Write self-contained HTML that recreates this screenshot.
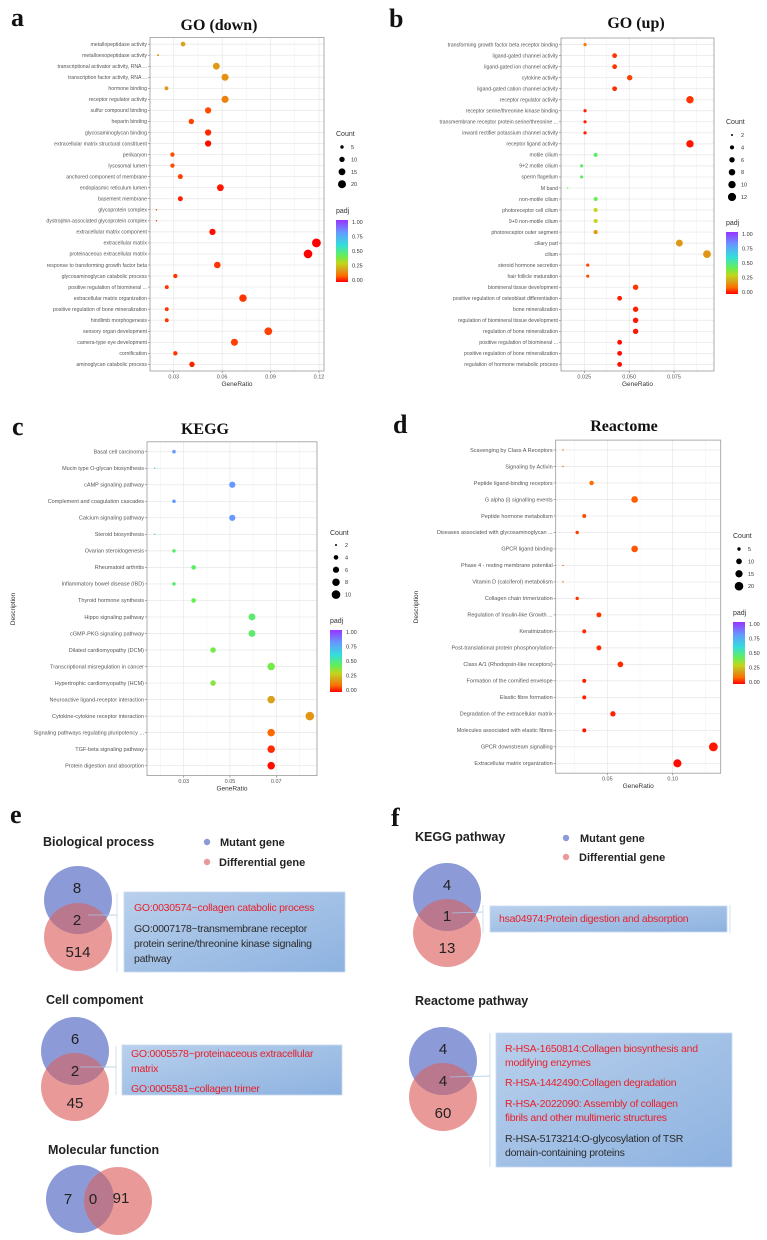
<!DOCTYPE html>
<html><head><meta charset="utf-8">
<style>
html,body{margin:0;padding:0;background:#fff;}
svg{display:block;font-family:"Liberation Sans",sans-serif;}
.lbl{font-size:5.3px;fill:#555;}
.tick{font-size:5.5px;fill:#555;}
.ax{font-size:6.5px;fill:#333;}
.lg{font-size:7px;fill:#333;}
.lgs{font-size:5.5px;fill:#333;}
.title{font-family:"Liberation Serif",serif;font-weight:bold;font-size:16px;fill:#111;}
.plet{font-family:"Liberation Serif",serif;font-weight:bold;font-size:26px;fill:#111;}
.vh{font-size:12.5px;font-weight:bold;fill:#222;}
.vn{font-size:15px;fill:#222;}
.bt{font-size:10.5px;letter-spacing:-0.25px;}
.red{fill:#e8202a;}
.blk{fill:#2a2a2a;}
</style></head>
<body>
<svg id="fig" width="767" height="1240" viewBox="0 0 767 1240">
<defs>
<linearGradient id="padjGrad" x1="0" y1="1" x2="0" y2="0">
<stop offset="0" stop-color="#ff0000"/><stop offset="0.1" stop-color="#ff6a00"/><stop offset="0.2" stop-color="#d9a21b"/><stop offset="0.3" stop-color="#c2d61a"/><stop offset="0.42" stop-color="#66ee55"/><stop offset="0.6" stop-color="#33dddd"/><stop offset="0.8" stop-color="#6699ff"/><stop offset="1" stop-color="#9933ff"/>
</linearGradient>
<linearGradient id="boxGrad" x1="0" y1="0" x2="1" y2="1">
<stop offset="0" stop-color="#b9d0ec"/><stop offset="1" stop-color="#8db2e0"/>
</linearGradient>
<clipPath id="cBP"><circle cx="78" cy="900" r="34"/></clipPath>
<clipPath id="cCC"><circle cx="75" cy="1051" r="34"/></clipPath>
<clipPath id="cMF"><circle cx="80" cy="1199" r="34"/></clipPath>
<clipPath id="cKP"><circle cx="447" cy="897" r="34"/></clipPath>
<clipPath id="cRP"><circle cx="443" cy="1061" r="34"/></clipPath>
</defs>

<text class="plet" x="11" y="26">a</text>
<text class="title" x="219" y="30" text-anchor="middle">GO (down)</text>
<text class="plet" x="389" y="27">b</text>
<text class="title" x="636" y="28" text-anchor="middle">GO (up)</text>
<text class="plet" x="12" y="435">c</text>
<text class="title" x="205" y="434" text-anchor="middle">KEGG</text>
<text class="plet" x="393" y="433">d</text>
<text class="title" x="624" y="431" text-anchor="middle">Reactome</text>

<g id="plots"></g>

<text class="plet" x="10" y="823">e</text>
<text class="vh" x="43" y="846">Biological process</text>
<circle cx="207" cy="842" r="3.2" fill="#8c9ad8"/>
<text class="vh" x="220" y="846" style="font-size:11px">Mutant gene</text>
<circle cx="207" cy="862" r="3.2" fill="#e99a98"/>
<text class="vh" x="219" y="866" style="font-size:11px">Differential gene</text>

<g>
<circle cx="78" cy="937" r="34" fill="#e99a98"/>
<circle cx="78" cy="900" r="34" fill="#8c9ad8"/>
<circle cx="78" cy="937" r="34" fill="#b9788d" clip-path="url(#cBP)"/>
<text class="vn" x="77" y="893" text-anchor="middle">8</text>
<text class="vn" x="77" y="925" text-anchor="middle">2</text>
<text class="vn" x="78" y="957" text-anchor="middle">514</text>
<line x1="88" y1="915" x2="117" y2="915" stroke="#aac4e6" stroke-width="0.8"/>
<line x1="117" y1="893" x2="117" y2="972" stroke="#c8d8ef" stroke-width="0.8"/>
</g>
<rect x="124" y="892" width="221" height="80" fill="url(#boxGrad)" stroke="#c9daf0" stroke-width="0.8"/>
<text class="bt red" x="134" y="911">GO:0030574~collagen catabolic process</text>
<text class="bt blk" x="134" y="932">GO:0007178~transmembrane receptor</text>
<text class="bt blk" x="134" y="947">protein serine/threonine kinase signaling</text>
<text class="bt blk" x="134" y="962">pathway</text>

<text class="vh" x="46" y="1004">Cell compoment</text>
<g>
<circle cx="75" cy="1087" r="34" fill="#e99a98"/>
<circle cx="75" cy="1051" r="34" fill="#8c9ad8"/>
<circle cx="75" cy="1087" r="34" fill="#b9788d" clip-path="url(#cCC)"/>
<text class="vn" x="75" y="1044" text-anchor="middle">6</text>
<text class="vn" x="75" y="1076" text-anchor="middle">2</text>
<text class="vn" x="75" y="1108" text-anchor="middle">45</text>
<line x1="80" y1="1067" x2="116" y2="1067" stroke="#aac4e6" stroke-width="0.8"/>
<line x1="116" y1="1046" x2="116" y2="1095" stroke="#c8d8ef" stroke-width="0.8"/>
</g>
<rect x="122" y="1045" width="220" height="50" fill="url(#boxGrad)" stroke="#c9daf0" stroke-width="0.8"/>
<text class="bt red" x="131" y="1057">GO:0005578~proteinaceous extracellular</text>
<text class="bt red" x="131" y="1072">matrix</text>
<text class="bt red" x="131" y="1092">GO:0005581~collagen trimer</text>

<text class="vh" x="48" y="1154">Molecular function</text>
<g>
<circle cx="80" cy="1199" r="34" fill="#8c9ad8"/>
<circle cx="118" cy="1201" r="34" fill="#e99a98"/>
<circle cx="118" cy="1201" r="34" fill="#b9788d" clip-path="url(#cMF)"/>
<text class="vn" x="68" y="1204" text-anchor="middle">7</text>
<text class="vn" x="93" y="1204" text-anchor="middle">0</text>
<text class="vn" x="121" y="1203" text-anchor="middle">91</text>
</g>

<text class="plet" x="391" y="826">f</text>
<text class="vh" x="415" y="841">KEGG pathway</text>
<circle cx="566" cy="838" r="3.2" fill="#8c9ad8"/>
<text class="vh" x="580" y="842" style="font-size:11px">Mutant gene</text>
<circle cx="566" cy="857" r="3.2" fill="#e99a98"/>
<text class="vh" x="579" y="861" style="font-size:11px">Differential gene</text>

<g>
<circle cx="447" cy="933" r="34" fill="#e99a98"/>
<circle cx="447" cy="897" r="34" fill="#8c9ad8"/>
<circle cx="447" cy="933" r="34" fill="#b9788d" clip-path="url(#cKP)"/>
<text class="vn" x="447" y="890" text-anchor="middle">4</text>
<text class="vn" x="447" y="921" text-anchor="middle">1</text>
<text class="vn" x="447" y="953" text-anchor="middle">13</text>
<line x1="452" y1="913" x2="483" y2="912" stroke="#aac4e6" stroke-width="0.8"/>
<line x1="483" y1="905" x2="483" y2="933" stroke="#c8d8ef" stroke-width="0.8"/>
<line x1="730" y1="905" x2="730" y2="933" stroke="#c8d8ef" stroke-width="0.8"/>
</g>
<rect x="490" y="906" width="237" height="26" fill="url(#boxGrad)" stroke="#c9daf0" stroke-width="0.8"/>
<text class="bt red" x="499" y="922">hsa04974:Protein digestion and absorption</text>

<text class="vh" x="415" y="1005">Reactome pathway</text>
<g>
<circle cx="443" cy="1097" r="34" fill="#e99a98"/>
<circle cx="443" cy="1061" r="34" fill="#8c9ad8"/>
<circle cx="443" cy="1097" r="34" fill="#b9788d" clip-path="url(#cRP)"/>
<text class="vn" x="443" y="1054" text-anchor="middle">4</text>
<text class="vn" x="443" y="1086" text-anchor="middle">4</text>
<text class="vn" x="443" y="1118" text-anchor="middle">60</text>
<line x1="450" y1="1077" x2="490" y2="1076" stroke="#aac4e6" stroke-width="0.8"/>
<line x1="490" y1="1033" x2="490" y2="1167" stroke="#c8d8ef" stroke-width="0.8"/>
</g>
<rect x="496" y="1033" width="236" height="134" fill="url(#boxGrad)" stroke="#c9daf0" stroke-width="0.8"/>
<text class="bt red" x="505" y="1052">R-HSA-1650814:Collagen biosynthesis and</text>
<text class="bt red" x="505" y="1066">modifying enzymes</text>
<text class="bt red" x="505" y="1086">R-HSA-1442490:Collagen degradation</text>
<text class="bt red" x="505" y="1107">R-HSA-2022090: Assembly of collagen</text>
<text class="bt red" x="505" y="1121">fibrils and other multimeric structures</text>
<text class="bt blk" x="505" y="1142">R-HSA-5173214:O-glycosylation of TSR</text>
<text class="bt blk" x="505" y="1156">domain-containing proteins</text>
</svg>

<script>
const goDownTerms = ["metallopeptidase activity","metalloexopeptidase activity","transcriptional activator activity, RNA ...","transcription factor activity, RNA ...","hormone binding","receptor regulator activity","sulfur compound binding","heparin binding","glycosaminoglycan binding","extracellular matrix structural constituent","perikaryon","lysosomal lumen","anchored component of membrane","endoplasmic reticulum lumen","basement membrane","glycoprotein complex","dystrophin-associated glycoprotein complex","extracellular matrix component","extracellular matrix","proteinaceous extracellular matrix","response to transforming growth factor beta","glycosaminoglycan catabolic process","positive regulation of biomineral ...","extracellular matrix organization","positive regulation of bone mineralization","hindlimb morphogenesis","sensory organ development","camera-type eye development","cornification","aminoglycan catabolic process"];
const goDownRatio = [0.0358,0.0203,0.0564,0.0618,0.0255,0.0618,0.0513,0.0409,0.0513,0.0513,0.0292,0.0292,0.0341,0.0589,0.0341,0.0193,0.0193,0.054,0.1184,0.1132,0.057,0.031,0.0257,0.0729,0.0257,0.0257,0.0886,0.0676,0.031,0.0413];
const goDownCount = [8,3,15,16,6,16,13,10,13,13,7,7,9,15,9,2,2,13,24,23,14,7,6,18,6,6,19,16,7,10];
const goDownPadj = [0.2,0.2,0.19,0.17,0.19,0.14,0.07,0.06,0.04,0.01,0.07,0.07,0.06,0.02,0.03,0.02,0.02,0.01,0.0,0.0,0.05,0.05,0.05,0.05,0.05,0.05,0.06,0.06,0.05,0.03];
const goDownTicks = [0.03,0.06,0.09,0.12];
const goDownTickLabels = ["0.03","0.06","0.09","0.12"];
const goDownSizeLegend = [5,10,15,20];

const goUpTerms = ["transforming growth factor beta receptor binding","ligand-gated channel activity","ligand-gated ion channel activity","cytokine activity","ligand-gated cation channel activity","receptor regulator activity","receptor serine/threonine kinase binding","transmembrane receptor protein serine/threonine ...","inward rectifier potassium channel activity","receptor ligand activity","motile cilium","9+2 motile cilium","sperm flagellum","M band","non-motile cilium","photoreceptor cell cilium","9+0 non-motile cilium","photoreceptor outer segment","ciliary part","cilium","steroid hormone secretion","hair follicle maturation","biomineral tissue development","positive regulation of osteoblast differentiation","bone mineralization","regulation of biomineral tissue development","regulation of bone mineralization","positive regulation of biomineral ...","positive regulation of bone mineralization","regulation of hormone metabolic process"];
const goUpRatio = [0.0254,0.0419,0.0419,0.0503,0.0419,0.0839,0.0254,0.0254,0.0254,0.0839,0.0313,0.0235,0.0235,0.0157,0.0313,0.0313,0.0313,0.0313,0.078,0.0934,0.0269,0.0269,0.0536,0.0447,0.0536,0.0536,0.0536,0.0447,0.0447,0.0447];
const goUpCount = [3,5,5,6,5,10,3,3,3,10,4,3,3,1,4,4,4,4,9,11,3,3,6,5,6,6,6,5,5,5];
const goUpPadj = [0.13,0.05,0.05,0.06,0.04,0.05,0.03,0.03,0.03,0.02,0.45,0.45,0.44,0.42,0.42,0.3,0.3,0.18,0.18,0.18,0.07,0.07,0.05,0.03,0.03,0.02,0.02,0.01,0.01,0.01];
const goUpTicks = [0.025,0.05,0.075];
const goUpTickLabels = ["0.025","0.050","0.075"];
const goUpSizeLegend = [2,4,6,8,10,12];

const keggTerms = ["Basal cell carcinoma","Mucin type O-glycan biosynthesis","cAMP signaling pathway","Complement and coagulation cascades","Calcium signaling pathway","Steroid biosynthesis","Ovarian steroidogenesis","Rheumatoid arthritis","Inflammatory bowel disease (IBD)","Thyroid hormone synthesis","Hippo signaling pathway","cGMP-PKG signaling pathway","Dilated cardiomyopathy (DCM)","Transcriptional misregulation in cancer","Hypertrophic cardiomyopathy (HCM)","Neuroactive ligand-receptor interaction","Cytokine-cytokine receptor interaction","Signaling pathways regulating pluripotency ...","TGF-beta signaling pathway","Protein digestion and absorption"];
const keggRatio = [0.0258,0.0175,0.051,0.0258,0.051,0.0175,0.0258,0.0343,0.0258,0.0343,0.0595,0.0595,0.0427,0.0678,0.0427,0.0678,0.0845,0.0678,0.0678,0.0678];
const keggCount = [3,1,6,3,6,1,3,4,3,4,7,7,5,8,5,8,10,8,8,8];
const keggPadj = [0.8,0.68,0.8,0.8,0.8,0.62,0.45,0.44,0.45,0.42,0.45,0.45,0.4,0.4,0.38,0.2,0.18,0.1,0.04,0.01];
const keggTicks = [0.03,0.05,0.07];
const keggTickLabels = ["0.03","0.05","0.07"];
const keggSizeLegend = [2,4,6,8,10];

const reactTerms = ["Scavenging by Class A Receptors","Signaling by Activin","Peptide ligand-binding receptors","G alpha (i) signalling events","Peptide hormone metabolism","Diseases associated with glycosaminoglycan ...","GPCR ligand binding","Phase 4 - resting membrane potential","Vitamin D (calciferol) metabolism","Collagen chain trimerization","Regulation of Insulin-like Growth ...","Keratinization","Post-translational protein phosphorylation","Class A/1 (Rhodopsin-like receptors)","Formation of the cornified envelope","Elastic fibre formation","Degradation of the extracellular matrix","Molecules associated with elastic fibres","GPCR downstream signalling","Extracellular matrix organization"];
const reactRatio = [0.0161,0.0161,0.038,0.0709,0.0324,0.027,0.0709,0.0161,0.0161,0.027,0.0436,0.0324,0.0436,0.06,0.0324,0.0324,0.0543,0.0324,0.1311,0.1036];
const reactCount = [1,1,7,13,6,5,13,1,1,5,8,6,8,10,6,6,9,6,21,18];
const reactPadj = [0.1,0.08,0.1,0.09,0.07,0.06,0.08,0.07,0.06,0.05,0.05,0.04,0.04,0.04,0.03,0.03,0.03,0.02,0.02,0.01];
const reactTicks = [0.05,0.10];
const reactTickLabels = ["0.05","0.10"];
const reactSizeLegend = [5,10,15,20];

const padjLegendTicks = [1.0,0.75,0.5,0.25,0.0];
const padjLegendLabels = ["1.00","0.75","0.50","0.25","0.00"];

const NS = "http://www.w3.org/2000/svg";
const stops = [[0,[255,0,0]],[0.1,[255,106,0]],[0.2,[217,162,27]],[0.3,[194,214,26]],[0.42,[102,238,85]],[0.6,[51,221,221]],[0.8,[102,153,255]],[1,[153,51,255]]];
function padjColor(p){
  for(let i=1;i<stops.length;i++){
    if(p<=stops[i][0]){
      const a=stops[i-1],b=stops[i],t=(p-a[0])/(b[0]-a[0]);
      const c=a[1].map((v,k)=>Math.round(v+(b[1][k]-v)*t));
      return "rgb("+c.join(",")+")";
    }
  }
  return "rgb(153,51,255)";
}
function mk(tag,attrs,parent){const e=document.createElementNS(NS,tag);for(const k in attrs)e.setAttribute(k,attrs[k]);parent.appendChild(e);return e;}

function dotPlot(cfg, terms, ratio, count, padj, ticks, tickLabels, sizeLegend){
  const root=document.getElementById("plots");
  const g=mk("g",{},root);
  
  
  const L=cfg.left,R=cfg.right,T=cfg.top,B=cfg.bottom;
  const xs=v=>L+(v-cfg.dom[0])/(cfg.dom[1]-cfg.dom[0])*(R-L);
  const n=terms.length, step=(B-T)/(n-1+1.2);
  const ys=i=>T+(0.6+i)*step;
  const rs=c=>Math.sqrt(Math.max(cfg.a0+cfg.a1*c,0.5));
  const bg=mk("rect",{x:L,y:T,width:R-L,height:B-T,fill:"#fff"},g);
  
  
  for(let i=0;i<=ticks.length;i++){
    const d=ticks.length>1?ticks[1]-ticks[0]:0.05;
    const v=ticks[0]-d/2+i*d;
    const x=xs(v); if(x>L&&x<R){const ln=mk("line",{x1:x,x2:x,y1:T,y2:B,stroke:"#f2f2f2","stroke-width":0.5},g);
    
    }
  }
  ticks.forEach((t,i)=>{
    const x=xs(t);
    const ln=mk("line",{x1:x,x2:x,y1:T,y2:B,stroke:"#e6e6e6","stroke-width":0.7},g);
    
    
    mk("line",{x1:x,x2:x,y1:B,y2:B+2,stroke:"#555","stroke-width":0.5},g);
    const tx=mk("text",{x:x,y:B+7.5,class:"tick","text-anchor":"middle"},g);
    tx.textContent=tickLabels[i];
    
    
  });
  terms.forEach((t,i)=>{
    const y=ys(i);
    const ln=mk("line",{x1:L,x2:R,y1:y,y2:y,stroke:"#e6e6e6","stroke-width":0.7},g);
    
    
    mk("line",{x1:L-2,x2:L,y1:y,y2:y,stroke:"#555","stroke-width":0.5},g);
    const tx=mk("text",{x:L-3,y:y+1.8,class:"lbl","text-anchor":"end",style:"font-size:"+cfg.lf+"px"},g);
    tx.textContent=t;
    
    
  });
  const br=mk("rect",{x:L,y:T,width:R-L,height:B-T,fill:"none",stroke:"#999","stroke-width":0.8},g);
  
  
  terms.forEach((t,i)=>{
    const c=mk("circle",{cx:xs(ratio[i]),cy:ys(i),r:rs(count[i]),fill:padjColor(padj[i])},g);
    
    
  });
  const xt=mk("text",{x:(L+R)/2,y:B+15,class:"ax","text-anchor":"middle"},g);
  xt.textContent="GeneRatio";
  
  
  if(cfg.desc){
    const yt=mk("text",{x:cfg.desc[0],y:cfg.desc[1],class:"ax","text-anchor":"middle",transform:"rotate(-90 "+cfg.desc[0]+" "+cfg.desc[1]+")"},g);
    yt.textContent="Description";
    
    
  }
  const lx=cfg.lg[0], ly=cfg.lg[1];
  const ct=mk("text",{x:lx,y:ly,class:"lg"},g);
  ct.textContent="Count";
  
  
  sizeLegend.forEach((s,i)=>{
    const y=ly+cfg.lg0+i*cfg.lgs;
    const c=mk("circle",{cx:lx+6,cy:y,r:rs(s),fill:"#000"},g);
    
    
    const t=mk("text",{x:lx+15,y:y+2,class:"lgs"},g);
    t.textContent=String(s);
    
    
  });
  const px=cfg.pj[0], py=cfg.pj[1];
  const pt=mk("text",{x:px,y:py,class:"lg"},g);
  pt.textContent="padj";
  
  
  const cbT=py+7, cbH=62;
  const cb=mk("rect",{x:px,y:cbT,width:12,height:cbH,fill:"url(#padjGrad)"},g);
  
  
  padjLegendTicks.forEach((v,i)=>{
    const y=cbT+2+(1-v)*(cbH-4);
    const t=mk("text",{x:px+16,y:y+2,class:"lgs"},g);
    t.textContent=padjLegendLabels[i];
    
    
  });
}

dotPlot({id:"go-down",left:150,right:324,top:37.5,bottom:371,dom:[0.0153,0.1231],a0:-1.48,a1:0.874,lf:5.2,lg:[336,136],lg0:11,lgs:12.4,pj:[336,213]},
  goDownTerms,goDownRatio,goDownCount,goDownPadj,goDownTicks,goDownTickLabels,goDownSizeLegend);
dotPlot({id:"go-up",left:561,right:714,top:38,bottom:371,dom:[0.012,0.0973],a0:-2.16,a1:1.58,lf:5.2,lg:[726,124],lg0:11,lgs:12.4,pj:[726,225]},
  goUpTerms,goUpRatio,goUpCount,goUpPadj,goUpTicks,goUpTickLabels,goUpSizeLegend);
dotPlot({id:"kegg",left:147,right:317,top:441.8,bottom:775.6,dom:[0.01415,0.0876],a0:-3.38,a1:2.19,lf:5.5,lg:[330,535],lg0:10,lgs:12.4,pj:[330,623],desc:[15,609]},
  keggTerms,keggRatio,keggCount,keggPadj,keggTicks,keggTickLabels,keggSizeLegend);
dotPlot({id:"reactome",left:555.7,right:720.7,top:440.1,bottom:773.2,dom:[0.01055,0.1367],a0:-2.31,a1:1.04,lf:5.5,lg:[733,538],lg0:11,lgs:12.4,pj:[733,615],desc:[418,607]},
  reactTerms,reactRatio,reactCount,reactPadj,reactTicks,reactTickLabels,reactSizeLegend);
</script>
</body></html>
